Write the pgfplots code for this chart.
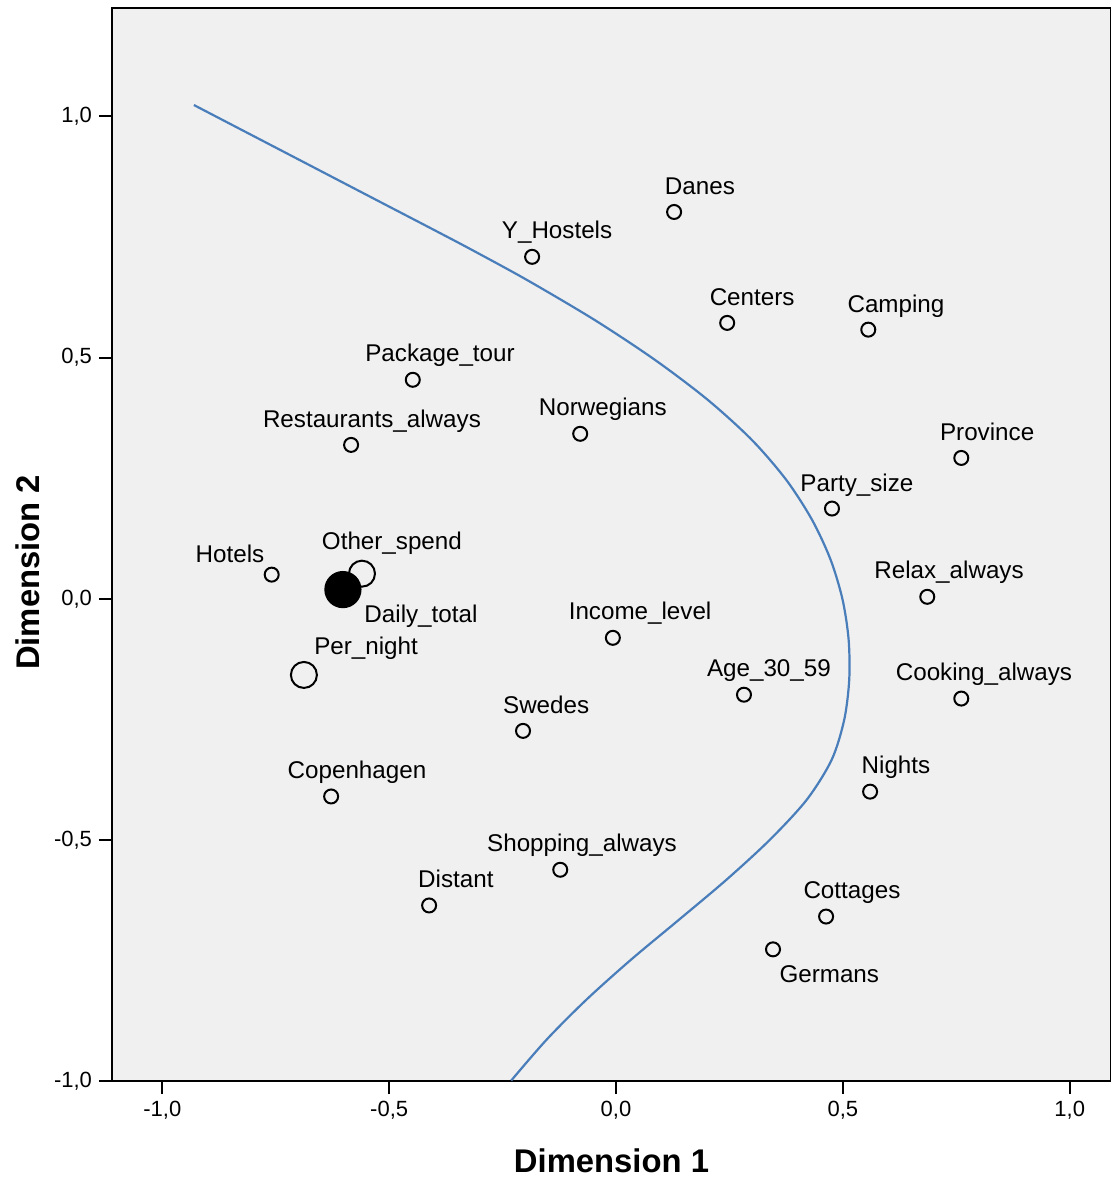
\documentclass[border=0pt]{standalone}
\usepackage{pgfplots}
\pgfplotsset{compat=1.18}
\usepackage{fontspec}
\setmainfont{Liberation Sans}
\definecolor{bgc}{HTML}{F0F0F0}
\definecolor{curvec}{HTML}{4A7EBB}
\begin{document}
\begin{tikzpicture}
\begin{axis}[name=ax, scale only axis, width=499.5pt, height=536.5pt,
  xmin=-1.111, xmax=1.091, ymin=-1.0, ymax=1.225,
  axis background/.style={fill=bgc},
  axis line style={line width=1pt},
  xtick={-1,-0.5,0,0.5,1}, xticklabels={{-1,0},{-0,5},{0,0},{0,5},{1,0}},
  ytick={-1,-0.5,0,0.5,1}, yticklabels={{-1,0},{-0,5},{0,0},{0,5},{1,0}},
  tick align=outside, xtick pos=bottom, ytick pos=left,
  major tick length=6.5pt, tick style={line width=1pt, black},
  ticklabel style={font=\fontsize{11}{13}\selectfont},
  xlabel={Dimension 1}, ylabel={Dimension 2},
  every axis x label/.style={at={(axis description cs:0.5,-0.074)}, anchor=center, font=\fontsize{16.4}{19}\selectfont\bfseries},
  every axis y label/.style={at={(axis description cs:-0.0841,0.474)}, rotate=90, anchor=center, font=\fontsize{16.4}{19}\selectfont\bfseries},
  clip=false,
]
% fitted curve
\addplot[curvec, line width=1.1pt, smooth, mark=none] coordinates {
(-0.9305,1.0238) (-0.8247,0.9720) (-0.7188,0.9202) (-0.6130,0.8684)
(-0.5072,0.8166) (-0.4013,0.7648) (-0.3175,0.7233) (-0.1965,0.6611)
(-0.0474,0.5782) (0.0858,0.4953) (0.2022,0.4124) (0.2992,0.3295)
(0.3751,0.2466) (0.4320,0.1637) (0.4730,0.0808) (0.4994,-0.0021)
(0.5127,-0.0850) (0.5140,-0.1679) (0.5030,-0.2508) (0.4754,-0.3337)
(0.4205,-0.4166) (0.3394,-0.4995) (0.2437,-0.5824) (0.1391,-0.6653)
(0.0333,-0.7482) (-0.0650,-0.8311) (-0.1528,-0.9140) (-0.2310,-0.9990)
};
% small points
\addplot[only marks, mark=o, mark size=3.5pt, mark options={line width=1pt, black}] table {
x y
0.128 0.802
-0.185 0.709
0.245 0.572
0.556 0.558
-0.448 0.454
-0.584 0.319
-0.079 0.342
0.761 0.292
0.476 0.187
-0.759 0.050
0.686 0.004
-0.007 -0.081
0.282 -0.199
0.761 -0.207
-0.205 -0.274
-0.628 -0.410
0.560 -0.400
-0.123 -0.562
-0.412 -0.636
0.463 -0.659
0.346 -0.727
};
% larger points
\addplot[only marks, mark=o, mark size=6.5pt, mark options={line width=1pt, black}] table {
x y
-0.560 0.052
-0.688 -0.158
};
\addplot[only marks, mark=*, mark size=8.8pt, mark options={line width=1pt, black, fill=black}] table {
x y
-0.602 0.019
};
% labels
\addplot[draw=none, mark=none, nodes near coords, point meta=explicit symbolic,
  every node near coord/.append style={anchor=base, inner sep=0pt, font=\fontsize{12.1}{14}\selectfont, text=black}]
  table[meta=label] {
x y label
0.185 0.839 Danes
-0.130 0.746 Y\_Hostels
0.300 0.609 Centers
0.617 0.594 Camping
-0.388 0.491 Package\_tour
-0.538 0.356 Restaurants\_always
-0.029 0.379 Norwegians
0.818 0.329 Province
0.531 0.223 Party\_size
-0.851 0.076 Hotels
-0.494 0.103 Other\_spend
-0.430 -0.050 Daily\_total
0.734 0.043 Relax\_always
0.053 -0.044 Income\_level
-0.551 -0.116 Per\_night
0.337 -0.162 Age\_30\_59
0.811 -0.170 Cooking\_always
-0.154 -0.237 Swedes
-0.571 -0.373 Copenhagen
0.617 -0.363 Nights
-0.075 -0.525 Shopping\_always
-0.353 -0.599 Distant
0.520 -0.622 Cottages
0.470 -0.796 Germans
};
\end{axis}
\path (ax.south west) ++(-56pt,-48.5pt) coordinate (bbA);
\path (ax.north east) ++(0pt,4pt) coordinate (bbB);
\pgfresetboundingbox
\path[use as bounding box] (bbA) rectangle (bbB);
\end{tikzpicture}
\end{document}
